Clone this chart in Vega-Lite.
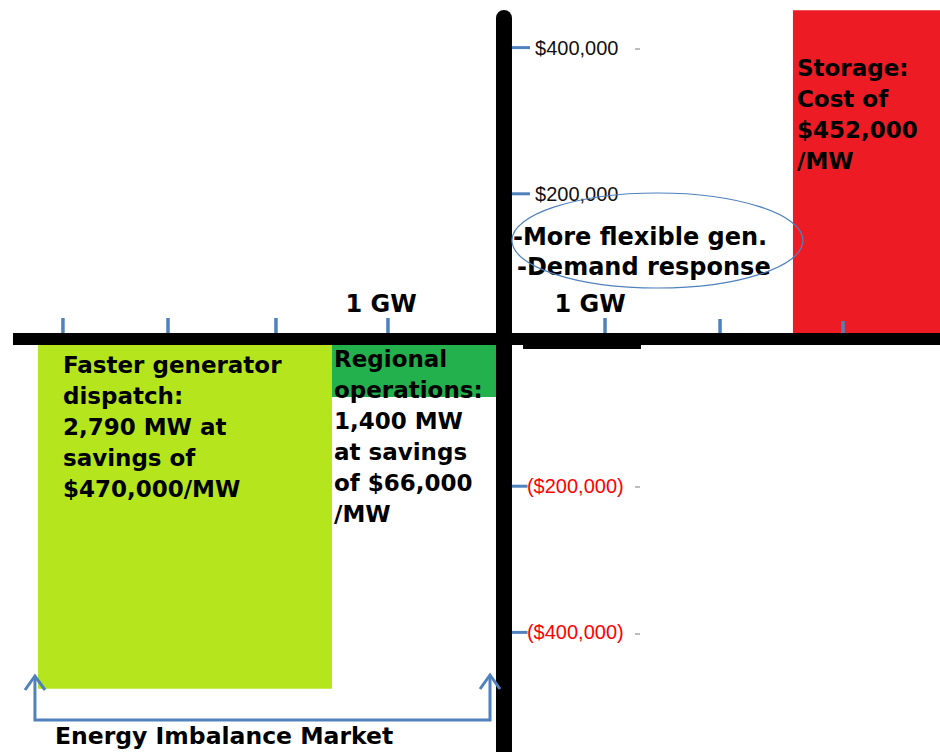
{
  "$schema": "https://vega.github.io/schema/vega-lite/v6.json",
  "width": 940,
  "height": 752,
  "autosize": {"type": "none"},
  "padding": 0,
  "background": "white",
  "config": {"view": {"stroke": null}},
  "encoding": {
    "x": {"field": "x", "type": "quantitative", "scale": {"domain": [-4500, 3893], "nice": false, "zero": false}, "axis": null},
    "y": {"field": "y", "type": "quantitative", "scale": {"domain": [-563616, 465120], "nice": false, "zero": false}, "axis": null}
  },
  "layer": [
    {
      "data": {"values": [
        {"name": "Faster generator dispatch", "x": -4161, "x2": -1536, "y": 0, "y2": -477000},
        {"name": "Regional operations", "x": -1536, "x2": 0, "y": 0, "y2": -78000},
        {"name": "Storage", "x": 2580, "x2": 3893, "y": 0, "y2": 451000}
      ]},
      "mark": {"type": "rect"},
      "encoding": {
        "x2": {"field": "x2"},
        "y2": {"field": "y2"},
        "color": {"field": "name", "type": "nominal", "scale": {"domain": ["Faster generator dispatch", "Regional operations", "Storage"], "range": ["#b5e61d", "#22b14c", "#ed1c24"]}, "legend": null}
      }
    },
    {
      "data": {"values": [{"x": -4384, "x2": 3893, "y": 1368}]},
      "mark": {"type": "rule", "color": "black", "strokeWidth": 12},
      "encoding": {"x2": {"field": "x2"}}
    },
    {
      "data": {"values": [{"x": 0, "y": 440500, "y2": -563616}]},
      "mark": {"type": "rule", "color": "black", "strokeWidth": 16, "strokeCap": "round"},
      "encoding": {"y2": {"field": "y2"}}
    },
    {
      "data": {"values": [{"x": 170, "x2": 1223, "y": 6840, "y2": -12312}]},
      "mark": {"type": "rect", "color": "black"},
      "encoding": {"x2": {"field": "x2"}, "y2": {"field": "y2"}}
    },
    {
      "data": {"values": [
        {"x": -3938, "y": 30096, "y2": 9576},
        {"x": -3000, "y": 30096, "y2": 9576},
        {"x": -2036, "y": 30096, "y2": 9576},
        {"x": -1036, "y": 30096, "y2": 9576},
        {"x": 902, "y": 30096, "y2": 9576},
        {"x": 1929, "y": 28728, "y2": 9576},
        {"x": 3027, "y": 26000, "y2": 9576}
      ]},
      "mark": {"type": "rule", "color": "#4f81bd", "strokeWidth": 3.5},
      "encoding": {"y2": {"field": "y2"}}
    },
    {
      "data": {"values": [
        {"x": 71, "x2": 232, "y": 400000},
        {"x": 71, "x2": 232, "y": 200000},
        {"x": 71, "x2": 210, "y": -200000},
        {"x": 71, "x2": 210, "y": -400000}
      ]},
      "mark": {"type": "rule", "color": "#4f81bd", "strokeWidth": 3},
      "encoding": {"x2": {"field": "x2"}}
    },
    {
      "data": {"values": [
        {"x": 277, "y": 400000, "t": "$400,000"},
        {"x": 277, "y": 200000, "t": "$200,000"}
      ]},
      "mark": {"type": "text", "align": "left", "baseline": "middle", "dy": 1, "font": "Liberation Sans", "fontSize": 20, "color": "#111111"},
      "encoding": {"text": {"field": "t", "type": "nominal"}}
    },
    {
      "data": {"values": [
        {"x": 205, "y": -200000, "t": "($200,000)"},
        {"x": 205, "y": -400000, "t": "($400,000)"}
      ]},
      "mark": {"type": "text", "align": "left", "baseline": "middle", "dy": 1, "font": "Liberation Sans", "fontSize": 20, "color": "#ff0000"},
      "encoding": {"text": {"field": "t", "type": "nominal"}}
    },
    {
      "data": {"values": [
        {"x": 1170, "x2": 1214, "y": 398088},
        {"x": 1170, "x2": 1214, "y": -201096},
        {"x": 1170, "x2": 1214, "y": -402192}
      ]},
      "mark": {"type": "rule", "color": "#a6a6a6", "strokeWidth": 1.5},
      "encoding": {"x2": {"field": "x2"}}
    },
    {
      "data": {"values": [
        {"x": -1098, "y": 38304, "t": "1 GW"},
        {"x": 768, "y": 38304, "t": "1 GW"}
      ]},
      "mark": {"type": "text", "align": "center", "baseline": "alphabetic", "font": "DejaVu Sans", "fontWeight": "bold", "fontSize": 24, "color": "black"},
      "encoding": {"text": {"field": "t", "type": "nominal"}}
    },
    {
      "data": {"values": [
        {"x": -3938, "y": -20520, "t": "Faster generator\ndispatch:\n2,790 MW at\nsavings of\n$470,000/MW"},
        {"x": -1518, "y": -12312, "t": "Regional\noperations:\n1,400 MW\nat savings\nof $66,000\n/MW"},
        {"x": 2616, "y": 385776, "t": "Storage:\nCost of\n$452,000\n/MW"}
      ]},
      "mark": {"type": "text", "align": "left", "baseline": "top", "lineBreak": "\n", "lineHeight": 31, "font": "DejaVu Sans", "fontWeight": "bold", "fontSize": 23, "color": "black"},
      "encoding": {"text": {"field": "t", "type": "nominal"}}
    },
    {
      "data": {"values": [
        {"x": 80, "y": 129960, "t": "-More flexible gen."},
        {"x": 116, "y": 88920, "t": "-Demand response"}
      ]},
      "mark": {"type": "text", "align": "left", "baseline": "alphabetic", "font": "DejaVu Sans", "fontWeight": "bold", "fontSize": 24, "color": "black"},
      "encoding": {"text": {"field": "t", "type": "nominal"}}
    },
    {
      "data": {"values": [
        {"x": -4009, "y": -552672, "t": "Energy Imbalance Market"}
      ]},
      "mark": {"type": "text", "align": "left", "baseline": "alphabetic", "font": "DejaVu Sans", "fontWeight": "bold", "fontSize": 23.5, "color": "black"},
      "encoding": {"text": {"field": "t", "type": "nominal"}}
    },
    {
      "data": {"values": [
        {"seg": "bracket", "o": 1, "x": -4188, "y": -459648},
        {"seg": "bracket", "o": 2, "x": -4188, "y": -519840},
        {"seg": "bracket", "o": 3, "x": -125, "y": -519840},
        {"seg": "bracket", "o": 4, "x": -125, "y": -459648},
        {"seg": "arrowL", "o": 1, "x": -4277, "y": -478800},
        {"seg": "arrowL", "o": 2, "x": -4188, "y": -459648},
        {"seg": "arrowL", "o": 3, "x": -4098, "y": -478800},
        {"seg": "arrowR", "o": 1, "x": -214, "y": -477432},
        {"seg": "arrowR", "o": 2, "x": -125, "y": -458280},
        {"seg": "arrowR", "o": 3, "x": -36, "y": -477432}
      ]},
      "mark": {"type": "line", "color": "#4f81bd", "strokeWidth": 3, "strokeJoin": "miter"},
      "encoding": {
        "detail": {"field": "seg", "type": "nominal"},
        "order": {"field": "o", "type": "quantitative"}
      }
    },
    {
      "data": {"values": [{"x": 1370, "y": 136116}]},
      "mark": {"type": "point", "shape": "M-1,0A1,0.3265,0,1,1,1,0A1,0.3265,0,1,1,-1,0Z", "size": 84681, "filled": false, "color": "#4f81bd", "strokeWidth": 1.2, "opacity": 1}
    }
  ]
}
